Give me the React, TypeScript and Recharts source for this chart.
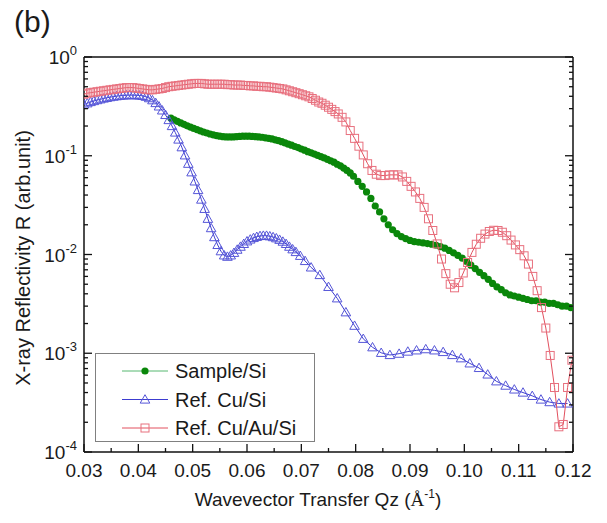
import { ScatterChart, Scatter, XAxis, YAxis, Legend } from 'recharts';

// Q (1/Å) and reflectivity pairs
const sampleSi: [number, number][] = [
  [0.046, 0.24], [0.0466, 0.231], [0.0472, 0.223], [0.0478, 0.215], [0.0484, 0.208], [0.049, 0.201],
  [0.0496, 0.195], [0.0502, 0.189], [0.0508, 0.184], [0.0514, 0.179], [0.052, 0.174], [0.0526, 0.17],
  [0.0532, 0.166], [0.0538, 0.163], [0.0544, 0.16], [0.055, 0.158], [0.0556, 0.156], [0.0562, 0.155],
  [0.0568, 0.155], [0.0574, 0.155], [0.058, 0.156], [0.0586, 0.157], [0.0592, 0.158], [0.0598, 0.158],
  [0.0604, 0.158], [0.061, 0.157], [0.0616, 0.156], [0.0622, 0.155], [0.0628, 0.154], [0.0634, 0.152],
  [0.064, 0.15], [0.0646, 0.148], [0.0652, 0.145], [0.0658, 0.142], [0.0664, 0.139], [0.067, 0.135],
  [0.0676, 0.131], [0.0682, 0.128], [0.0688, 0.124], [0.0694, 0.121], [0.07, 0.117], [0.0706, 0.114],
  [0.0712, 0.11], [0.0718, 0.107], [0.0724, 0.104], [0.073, 0.101], [0.0736, 0.098], [0.0742, 0.095],
  [0.0748, 0.092], [0.0754, 0.089], [0.076, 0.086], [0.0766, 0.082], [0.0772, 0.079], [0.0778, 0.075],
  [0.0784, 0.071], [0.079, 0.067], [0.0796, 0.062], [0.0804, 0.055], [0.0812, 0.049], [0.082, 0.043],
  [0.0828, 0.037], [0.0836, 0.031], [0.0844, 0.027], [0.0852, 0.023], [0.086, 0.02], [0.0868, 0.0178],
  [0.0876, 0.0163], [0.0884, 0.0152], [0.0892, 0.0145], [0.09, 0.0139], [0.0908, 0.0135], [0.0916, 0.0133],
  [0.0924, 0.0131], [0.0932, 0.0129], [0.094, 0.0127], [0.0948, 0.0124], [0.0956, 0.012], [0.0964, 0.0116],
  [0.0972, 0.011], [0.098, 0.0104], [0.0988, 0.0098], [0.0996, 0.0092], [0.1004, 0.0085], [0.1012, 0.0078],
  [0.102, 0.0072], [0.1028, 0.0066], [0.1036, 0.0061], [0.1044, 0.0056], [0.1052, 0.0051], [0.106, 0.0047],
  [0.1068, 0.0044], [0.1076, 0.0041], [0.1084, 0.0039], [0.1092, 0.0038], [0.11, 0.0037], [0.1108, 0.0036],
  [0.1116, 0.0035], [0.1124, 0.0034], [0.1132, 0.0034], [0.114, 0.0033], [0.1148, 0.0033], [0.1156, 0.0032],
  [0.1164, 0.0032], [0.1172, 0.0031], [0.118, 0.003], [0.1188, 0.003], [0.1196, 0.0029],
];

const refCuSi: [number, number][] = [
  [0.03, 0.33], [0.0306, 0.34], [0.0312, 0.35], [0.0318, 0.358], [0.0324, 0.366], [0.033, 0.373],
  [0.0336, 0.38], [0.0342, 0.386], [0.0348, 0.392], [0.0354, 0.397], [0.036, 0.401], [0.0366, 0.405],
  [0.0372, 0.408], [0.0378, 0.41], [0.0384, 0.411], [0.039, 0.411], [0.0396, 0.41], [0.0402, 0.408],
  [0.0408, 0.404], [0.0414, 0.396], [0.042, 0.383], [0.0426, 0.365], [0.0432, 0.342], [0.0438, 0.316],
  [0.0444, 0.288], [0.045, 0.259], [0.0456, 0.23], [0.0462, 0.2], [0.0468, 0.172], [0.0474, 0.146],
  [0.048, 0.122], [0.0486, 0.101], [0.0492, 0.083], [0.0498, 0.068], [0.0504, 0.055], [0.051, 0.045],
  [0.0516, 0.036], [0.0522, 0.029], [0.0528, 0.023], [0.0534, 0.0185], [0.054, 0.015], [0.0546, 0.0125],
  [0.0552, 0.0108], [0.0558, 0.0098], [0.0564, 0.0095], [0.057, 0.0098], [0.0576, 0.0104], [0.0582, 0.0112],
  [0.0588, 0.012], [0.0594, 0.0128], [0.06, 0.0136], [0.0606, 0.0142], [0.0612, 0.0147], [0.0618, 0.0151],
  [0.0624, 0.0154], [0.063, 0.0155], [0.0636, 0.0155], [0.0642, 0.0153], [0.0648, 0.015], [0.0654, 0.0146],
  [0.066, 0.0141], [0.0666, 0.0135], [0.0672, 0.0128], [0.0678, 0.012], [0.0684, 0.0113], [0.069, 0.0106],
  [0.0698, 0.0097], [0.0707, 0.0086], [0.0718, 0.0074], [0.0734, 0.0062], [0.075, 0.0047], [0.0766, 0.0036],
  [0.0782, 0.0026], [0.0798, 0.0019], [0.0814, 0.0014], [0.0831, 0.00115], [0.0847, 0.00101], [0.0863, 0.00096],
  [0.088, 0.00099], [0.0896, 0.00104], [0.0912, 0.00107], [0.0929, 0.0011], [0.0945, 0.00107], [0.0961, 0.00103],
  [0.0978, 0.00096], [0.0994, 0.00089], [0.101, 0.00079], [0.1027, 0.00071], [0.1043, 0.00061], [0.1059, 0.00052],
  [0.1076, 0.00047], [0.1092, 0.00043], [0.1108, 0.0004], [0.1125, 0.00037], [0.1141, 0.00034], [0.1157, 0.00032],
  [0.1174, 0.00031], [0.119, 0.00031],
];

const refCuAuSi: [number, number][] = [
  [0.03, 0.42], [0.0306, 0.43], [0.0312, 0.435], [0.0318, 0.44], [0.0324, 0.445], [0.033, 0.45],
  [0.0336, 0.455], [0.0342, 0.46], [0.0348, 0.465], [0.0354, 0.47], [0.036, 0.475], [0.0366, 0.48],
  [0.0372, 0.485], [0.0378, 0.49], [0.0384, 0.49], [0.039, 0.49], [0.0396, 0.485], [0.0402, 0.48],
  [0.0408, 0.475], [0.0414, 0.47], [0.042, 0.465], [0.0426, 0.465], [0.0432, 0.47], [0.0438, 0.475],
  [0.0444, 0.48], [0.045, 0.49], [0.0456, 0.5], [0.0462, 0.505], [0.0468, 0.51], [0.0474, 0.515],
  [0.048, 0.52], [0.0486, 0.525], [0.0492, 0.53], [0.0498, 0.535], [0.0504, 0.54], [0.051, 0.54],
  [0.0516, 0.54], [0.0522, 0.535], [0.0528, 0.53], [0.0534, 0.53], [0.054, 0.53], [0.0546, 0.53],
  [0.0552, 0.53], [0.0558, 0.53], [0.0564, 0.525], [0.057, 0.525], [0.0576, 0.52], [0.0582, 0.52],
  [0.0588, 0.52], [0.0594, 0.515], [0.06, 0.515], [0.0606, 0.51], [0.0612, 0.51], [0.0618, 0.505],
  [0.0624, 0.505], [0.063, 0.5], [0.0636, 0.5], [0.0642, 0.495], [0.0648, 0.49], [0.0654, 0.485],
  [0.066, 0.48], [0.0666, 0.475], [0.0672, 0.465], [0.0678, 0.455], [0.0684, 0.445], [0.069, 0.435],
  [0.0696, 0.425], [0.0702, 0.415], [0.0708, 0.405], [0.0714, 0.395], [0.072, 0.38], [0.0726, 0.365],
  [0.0732, 0.35], [0.0738, 0.34], [0.0744, 0.325], [0.075, 0.31], [0.0756, 0.295], [0.0762, 0.28],
  [0.0768, 0.265], [0.0775, 0.245], [0.0782, 0.22], [0.079, 0.18], [0.0798, 0.15], [0.0806, 0.125],
  [0.0814, 0.102], [0.0822, 0.083], [0.083, 0.071], [0.0838, 0.065], [0.0846, 0.063], [0.0854, 0.063],
  [0.0862, 0.064], [0.087, 0.064], [0.0878, 0.064], [0.0886, 0.061], [0.0894, 0.055], [0.0902, 0.049],
  [0.091, 0.043], [0.0918, 0.037], [0.0926, 0.03], [0.0934, 0.023], [0.0942, 0.0175], [0.095, 0.0128],
  [0.0958, 0.009], [0.0966, 0.0064], [0.0974, 0.005], [0.0982, 0.0046], [0.099, 0.0052], [0.0998, 0.0065],
  [0.1006, 0.0083], [0.1014, 0.0105], [0.1022, 0.0127], [0.103, 0.0146], [0.1038, 0.0161], [0.1046, 0.0171],
  [0.1054, 0.0176], [0.1062, 0.0175], [0.107, 0.0168], [0.1078, 0.0155], [0.1086, 0.014], [0.1094, 0.0125],
  [0.1102, 0.0112], [0.111, 0.0097], [0.1118, 0.008], [0.1126, 0.006], [0.1134, 0.0043], [0.1142, 0.0029],
  [0.115, 0.0018], [0.1158, 0.00095], [0.1166, 0.00045], [0.1174, 0.00018], [0.1182, 0.00019], [0.119, 0.00045],
  [0.1198, 0.00085],
];

const xTicks = [0.03, 0.035, 0.04, 0.045, 0.05, 0.055, 0.06, 0.065, 0.07, 0.075, 0.08, 0.085, 0.09, 0.095, 0.1, 0.105, 0.11, 0.115, 0.12];
const decades = [1e-4, 1e-3, 1e-2, 1e-1, 1];
const decadeExp = ['-4', '-3', '-2', '-1', '0'];
const yTicks: number[] = [];
decades.forEach((d, i) => {
  yTicks.push(d);
  if (i < decades.length - 1) [2, 3, 4, 5, 6, 7, 8, 9].forEach((m) => yTicks.push(d * m));
});

const FONT = '"Liberation Sans", Arial, sans-serif';

const toRows = (pts: [number, number][]) => pts.map(([q, r]) => ({ q, r }));

const isMajorX = (v: number) => Math.abs(v * 100 - Math.round(v * 100)) < 1e-6;
const decadeIndex = (v: number) => decades.findIndex((d) => Math.abs(v / d - 1) < 1e-6);

const XTick = (props: any) => {
  const { x, y, payload, side } = props;
  const major = isMajorX(payload.value);
  const len = major ? 8 : 4;
  const dir = side === 'top' ? 1 : -1;
  return (
    <g>
      <line x1={x} x2={x} y1={y} y2={y + dir * len} stroke="#111" strokeWidth={1.3} />
      {side === 'bottom' && major && (
        <text x={x} y={y + 25} textAnchor="middle" fontSize={19} fontFamily={FONT} fill="#1a1a1a">
          {payload.value.toFixed(2)}
        </text>
      )}
    </g>
  );
};

const YTick = (props: any) => {
  const { x, y, payload, side } = props;
  const idx = decadeIndex(payload.value);
  const major = idx >= 0;
  const len = major ? 8 : 4;
  const dir = side === 'left' ? 1 : -1;
  return (
    <g>
      <line x1={x} x2={x + dir * len} y1={y} y2={y} stroke="#111" strokeWidth={1.3} />
      {side === 'left' && major && (
        <text x={x - 7} y={y + 7} textAnchor="end" fontSize={19} fontFamily={FONT} fill="#1a1a1a">
          10<tspan dy={-9} fontSize={13}>{decadeExp[idx]}</tspan>
        </text>
      )}
    </g>
  );
};

const Dot = ({ cx, cy }: any) => <circle cx={cx} cy={cy} r={3.6} fill="#0a870a" />;
const Tri = ({ cx, cy }: any) => (
  <polygon points={`${cx},${cy - 4.8} ${cx - 4.8},${cy + 3.6} ${cx + 4.8},${cy + 3.6}`} fill="none" stroke="#5656d8" strokeWidth={1} />
);
const Sq = ({ cx, cy }: any) => (
  <rect x={cx - 4} y={cy - 4} width={8} height={8} fill="none" stroke="#e8707e" strokeWidth={1} />
);

const series = [
  { name: 'Sample/Si', data: toRows(sampleSi), line: '#56b870', Shape: Dot },
  { name: 'Ref. Cu/Si', data: toRows(refCuSi), line: '#3c3cd0', Shape: Tri },
  { name: 'Ref. Cu/Au/Si', data: toRows(refCuAuSi), line: '#e2505e', Shape: Sq },
];

const LegendBox = () => (
  <svg width={221} height={90} style={{ display: 'block' }}>
    <rect x={0.5} y={0.5} width={219} height={88} fill="#fff" stroke="#808080" strokeWidth={1} />
    {series.map((s, i) => {
      const cy = 18 + i * 28.5;
      const Shape = s.Shape;
      return (
        <g key={s.name}>
          <line x1={27} x2={73} y1={cy} y2={cy} stroke={s.line} strokeWidth={1} />
          <Shape cx={50} cy={cy} />
          <text x={80} y={cy + 7} fontSize={20} fontFamily={FONT} fill="#1a1a1a">{s.name}</text>
        </g>
      );
    })}
  </svg>
);

export default function App() {
  return (
    <div style={{ position: 'absolute', left: 0, top: 0, width: 607, height: 523, background: '#fff' }}>
      <div style={{ position: 'absolute', left: 14, top: 5, fontSize: 30, fontFamily: FONT, color: '#1a1a1a' }}>(b)</div>
      <ScatterChart width={607} height={523} margin={{ top: 56, right: 33, bottom: 70, left: 83 }}>
        <XAxis
          dataKey="q"
          type="number"
          domain={[0.03, 0.12]}
          allowDataOverflow
          ticks={xTicks}
          interval={0}
          height={1}
          tickSize={0}
          tickMargin={0}
          tickLine={false}
          axisLine={{ stroke: '#111', strokeWidth: 1.5 }}
          tick={(p: any) => <XTick {...p} side="bottom" />}
          label={{
            content: () => (
              <text x={318} y={506} textAnchor="middle" fontSize={19} fontFamily={FONT} fill="#1a1a1a">
                Wavevector Transfer Qz (<tspan fontFamily='"Liberation Serif", serif'>Å</tspan>
                <tspan dy={-8} fontSize={12}>-1</tspan>
                <tspan dy={8}>)</tspan>
              </text>
            ),
          }}
        />
        <XAxis
          xAxisId="top"
          orientation="top"
          type="number"
          domain={[0.03, 0.12]}
          allowDataOverflow
          ticks={xTicks}
          interval={0}
          height={1}
          tickSize={0}
          tickMargin={0}
          tickLine={false}
          axisLine={{ stroke: '#111', strokeWidth: 1.5 }}
          tick={(p: any) => <XTick {...p} side="top" />}
        />
        <YAxis
          dataKey="r"
          type="number"
          scale="log"
          domain={[1e-4, 1]}
          allowDataOverflow
          ticks={yTicks}
          interval={0}
          width={1}
          tickSize={0}
          tickMargin={0}
          tickLine={false}
          axisLine={{ stroke: '#111', strokeWidth: 1.5 }}
          tick={(p: any) => <YTick {...p} side="left" />}
          label={{
            content: () => (
              <text x={30} y={258} transform="rotate(-90 30 258)" textAnchor="middle" fontSize={20} fontFamily={FONT} fill="#1a1a1a">
                X-ray Reflectivity R (arb.unit)
              </text>
            ),
          }}
        />
        <YAxis
          yAxisId="right"
          orientation="right"
          type="number"
          scale="log"
          domain={[1e-4, 1]}
          allowDataOverflow
          ticks={yTicks}
          interval={0}
          width={1}
          tickSize={0}
          tickMargin={0}
          tickLine={false}
          axisLine={{ stroke: '#111', strokeWidth: 1.5 }}
          tick={(p: any) => <YTick {...p} side="right" />}
        />
        {series.map((s) => (
          <Scatter
            key={s.name}
            name={s.name}
            data={s.data}
            line={{ stroke: s.line, strokeWidth: 1 }}
            lineType="joint"
            shape={(p: any) => <s.Shape cx={p.cx} cy={p.cy} />}
            isAnimationActive={false}
          />
        ))}
        <Legend
          layout="vertical"
          align="center"
          verticalAlign="middle"
          content={() => <LegendBox />}
          wrapperStyle={{ left: 95, top: 353, width: 221, height: 90 }}
        />
      </ScatterChart>
    </div>
  );
}
